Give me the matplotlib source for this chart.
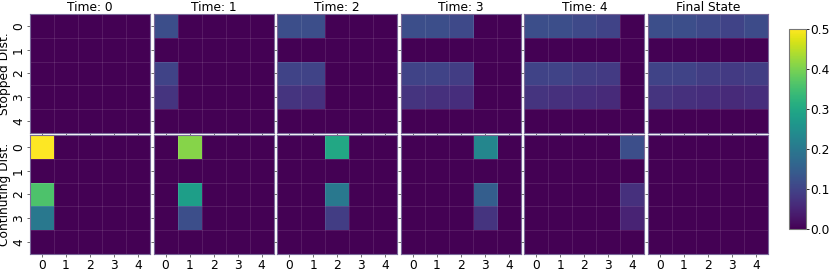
# Package Import
import numpy as np
import matplotlib
import matplotlib.pyplot as plt

matplotlib.use('Agg')

# Data
panel_titles = ['Time: 0', 'Time: 1', 'Time: 2', 'Time: 3', 'Time: 4', 'Final State']
row_labels = ['Stopped Dist.', 'Continuting Dist.']
tick_labels = ['0', '1', '2', '3', '4']
cbar_ticks = [0.0, 0.1, 0.2, 0.3, 0.4, 0.5]

# stopped distribution per time step (rows x cols)
stopped_t0 = [[0, 0, 0, 0, 0],
              [0, 0, 0, 0, 0],
              [0, 0, 0, 0, 0],
              [0, 0, 0, 0, 0],
              [0, 0, 0, 0, 0]]
stopped_t1 = [[0.12, 0, 0, 0, 0],
              [0, 0, 0, 0, 0],
              [0.10, 0, 0, 0, 0],
              [0.075, 0, 0, 0, 0],
              [0, 0, 0, 0, 0]]
stopped_t2 = [[0.12, 0.12, 0, 0, 0],
              [0, 0, 0, 0, 0],
              [0.10, 0.10, 0, 0, 0],
              [0.075, 0.07, 0, 0, 0],
              [0, 0, 0, 0, 0]]
stopped_t3 = [[0.12, 0.12, 0.11, 0, 0],
              [0, 0, 0, 0, 0],
              [0.10, 0.10, 0.09, 0, 0],
              [0.075, 0.07, 0.065, 0, 0],
              [0, 0, 0, 0, 0]]
stopped_t4 = [[0.12, 0.12, 0.11, 0.10, 0],
              [0, 0, 0, 0, 0],
              [0.10, 0.10, 0.09, 0.085, 0],
              [0.075, 0.07, 0.065, 0.06, 0],
              [0, 0, 0, 0, 0]]
stopped_final = [[0.12, 0.12, 0.11, 0.10, 0.115],
                 [0, 0, 0, 0, 0],
                 [0.10, 0.10, 0.09, 0.085, 0.09],
                 [0.075, 0.07, 0.065, 0.06, 0.065],
                 [0, 0, 0, 0, 0]]

# continuing distribution per time step
cont_t0 = [[0.50, 0, 0, 0, 0],
           [0, 0, 0, 0, 0],
           [0.36, 0, 0, 0, 0],
           [0.20, 0, 0, 0, 0],
           [0, 0, 0, 0, 0]]
cont_t1 = [[0, 0.41, 0, 0, 0],
           [0, 0, 0, 0, 0],
           [0, 0.28, 0, 0, 0],
           [0, 0.12, 0, 0, 0],
           [0, 0, 0, 0, 0]]
cont_t2 = [[0, 0, 0.30, 0, 0],
           [0, 0, 0, 0, 0],
           [0, 0, 0.20, 0, 0],
           [0, 0, 0.09, 0, 0],
           [0, 0, 0, 0, 0]]
cont_t3 = [[0, 0, 0, 0.23, 0],
           [0, 0, 0, 0, 0],
           [0, 0, 0, 0.15, 0],
           [0, 0, 0, 0.075, 0],
           [0, 0, 0, 0, 0]]
cont_t4 = [[0, 0, 0, 0, 0.12],
           [0, 0, 0, 0, 0],
           [0, 0, 0, 0, 0.07],
           [0, 0, 0, 0, 0.05],
           [0, 0, 0, 0, 0]]
cont_final = [[0, 0, 0, 0, 0],
              [0, 0, 0, 0, 0],
              [0, 0, 0, 0, 0],
              [0, 0, 0, 0, 0],
              [0, 0, 0, 0, 0]]

stopped = [stopped_t0, stopped_t1, stopped_t2, stopped_t3, stopped_t4, stopped_final]
continuing = [cont_t0, cont_t1, cont_t2, cont_t3, cont_t4, cont_final]

# Figure
W, H = 831, 272
fig = plt.figure(figsize=(W / 100, H / 100), dpi=100)
fs = 8.8

left0, pw, gap = 30, 120, 3.6
tops = [14, 135]
ph = 119

im = None
for r, grids in enumerate([stopped, continuing]):
    for c, grid in enumerate(grids):
        x0 = left0 + c * (pw + gap)
        ax = fig.add_axes([x0 / W, 1 - (tops[r] + ph) / H, pw / W, ph / H])
        im = ax.imshow(np.array(grid), cmap='viridis', vmin=0, vmax=0.5,
                       aspect='auto', interpolation='nearest')

        # faint grid on the cell borders
        ax.set_xticks(np.arange(-0.5, 5, 1), minor=True)
        ax.set_yticks(np.arange(-0.5, 5, 1), minor=True)
        ax.grid(which='minor', color='white', alpha=0.1, linewidth=0.8)
        ax.tick_params(which='minor', length=0)

        ax.set_xticks(range(5))
        ax.set_yticks(range(5))
        ax.tick_params(which='major', length=2, width=0.6, labelsize=fs,
                       color='#555555', pad=1.5)
        if r == 1:
            ax.set_xticklabels(tick_labels)
        else:
            ax.set_xticklabels([])
            ax.set_title(panel_titles[c], fontsize=fs, pad=1.5)
        if c == 0:
            ax.set_yticklabels(tick_labels, rotation=90, va='center')
            ax.set_ylabel(row_labels[r], fontsize=fs, labelpad=0.5)
        else:
            ax.set_yticklabels([])

        for s in ax.spines.values():
            s.set_color('#7a6a9a')
            s.set_linewidth(0.8)

# Colorbar
cax = fig.add_axes([789 / W, 1 - 229 / H, 17 / W, 200 / H])
cb = fig.colorbar(im, cax=cax, ticks=cbar_ticks)
cb.ax.tick_params(labelsize=fs, length=2, width=0.6, pad=1)
cb.ax.set_yticklabels([f'{t:.1f}' for t in cbar_ticks])
cb.outline.set_edgecolor('#777777')
cb.outline.set_linewidth(0.8)

fig.savefig('out.png', dpi=100)
plt.close()
